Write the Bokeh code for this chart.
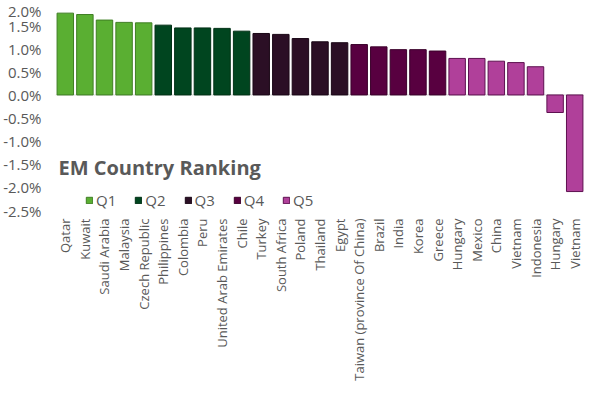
from math import pi
from bokeh.plotting import figure
from bokeh.models import ColumnDataSource, Range1d, FixedTicker, PrintfTickFormatter, Span, Label, Legend, LegendItem
from bokeh.embed import file_html
from bokeh.resources import INLINE

countries = ["Qatar", "Kuwait", "Saudi Arabia", "Malaysia", "Czech Republic",
             "Philippines", "Colombia", "Peru", "United Arab Emirates", "Chile",
             "Turkey", "South Africa", "Poland", "Thailand", "Egypt",
             "Taiwan (province Of China)", "Brazil", "India", "Korea", "Greece",
             "Hungary", "Mexico", "China", "Vietnam", "Indonesia", "Hungary", "Vietnam"]
values = [1.77, 1.74, 1.62, 1.57, 1.56,
          1.51, 1.45, 1.45, 1.44, 1.38,
          1.33, 1.31, 1.22, 1.15, 1.13,
          1.09, 1.04, 0.98, 0.98, 0.95,
          0.79, 0.79, 0.73, 0.70, 0.61, -0.38, -2.09]
quintiles = ["Q1"] * 5 + ["Q2"] * 5 + ["Q3"] * 5 + ["Q4"] * 5 + ["Q5"] * 7
y_ticks = [-2.5, -2.0, -1.5, -1.0, -0.5, 0.0, 0.5, 1.0, 1.5, 2.0]
quintile_names = ["Q1", "Q2", "Q3", "Q4", "Q5"]
fill_colors = ["#5AAF32", "#00451F", "#2B0F25", "#580040", "#B0409A"]
line_colors = ["#3F7E24", "#003015", "#1A0716", "#3A002A", "#5E1050"]

FONT = "Open Sans"
GREY = "#595959"

p = figure(width=584, height=383, output_backend="svg", toolbar_location=None,
           x_range=Range1d(-0.5, len(countries) - 0.5), y_range=Range1d(-2.5, 2.0),
           min_border_top=2, min_border_right=0, min_border_left=0, min_border_bottom=0)
p.outline_line_color = None
p.xgrid.visible = False
p.ygrid.visible = False

zero = Span(location=0, dimension="width", line_color="#D9D9D9", line_width=1, level="underlay")
p.add_layout(zero)

items = []
for q, fc, lc in zip(quintile_names, fill_colors, line_colors):
    idx = [i for i, qq in enumerate(quintiles) if qq == q]
    src = ColumnDataSource(dict(x=idx, top=[values[i] for i in idx]))
    r = p.vbar(x="x", top="top", bottom=0, width=0.84, source=src,
               fill_color=fc, line_color=lc, line_width=1)
    items.append(LegendItem(label=q, renderers=[r]))

legend = Legend(items=items, orientation="horizontal", location=(30, 0),
                padding=0, margin=0, spacing=18, label_standoff=3,
                glyph_width=8, glyph_height=8, background_fill_alpha=0,
                border_line_color=None, label_text_font=FONT,
                label_text_font_size="15px", label_text_color=GREY,
                label_height=16)
p.add_layout(legend, "center")

title = Label(x=-0.35, y=-1.56, text="EM Country Ranking", text_font=FONT,
              text_font_size="20px", text_font_style="bold", text_color=GREY,
              text_baseline="alphabetic", text_align="left")
p.add_layout(title)

p.yaxis.ticker = FixedTicker(ticks=y_ticks)
p.yaxis.formatter = PrintfTickFormatter(format="%.1f%%")
p.yaxis.axis_line_color = None
p.yaxis.major_tick_line_color = None
p.yaxis.minor_tick_line_color = None
p.yaxis.major_tick_out = 0
p.yaxis.major_tick_in = 0
p.yaxis.minor_tick_out = 0
p.yaxis.major_label_text_font = FONT
p.yaxis.major_label_text_font_size = "15px"
p.yaxis.major_label_text_color = GREY
p.yaxis.major_label_standoff = 14

p.xaxis.ticker = FixedTicker(ticks=list(range(len(countries))))
p.xaxis.major_label_overrides = {i: c for i, c in enumerate(countries)}
p.xaxis.major_label_orientation = pi / 2
p.xaxis.axis_line_color = None
p.xaxis.major_tick_line_color = None
p.xaxis.minor_tick_line_color = None
p.xaxis.major_tick_out = 0
p.xaxis.major_tick_in = 0
p.xaxis.minor_tick_out = 0
p.xaxis.major_label_text_font = FONT
p.xaxis.major_label_text_font_size = "13px"
p.xaxis.major_label_text_color = GREY
p.xaxis.major_label_standoff = 8

open("out.html", "w").write(file_html(p, INLINE))
